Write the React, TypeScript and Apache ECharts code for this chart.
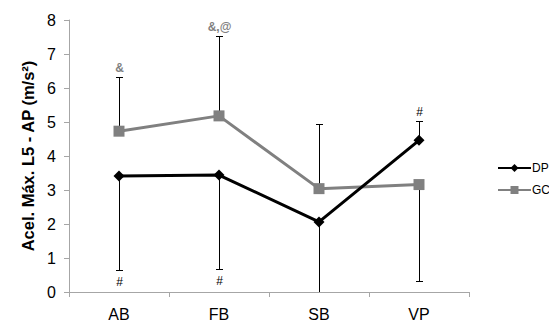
import React, { useEffect, useRef } from "react";
import * as echarts from "echarts";

const categories = ["AB", "FB", "SB", "VP"];
const dpValues = [3.41, 3.44, 2.06, 4.46];
const gcValues = [4.73, 5.18, 3.04, 3.16];
// error bar ends (null = none)
const dpErrEnd: (number | null)[] = [0.65, 0.68, -0.5, 5.04];
const gcErrEnd: (number | null)[] = [6.33, 7.54, 4.93, 0.31];
const dpMarks = ["#", "#", "", "#"];
const gcMarks = ["&", "&,@", "", ""];
const yTicks = [0, 1, 2, 3, 4, 5, 6, 7, 8];

function errSeries(name: string, values: number[], ends: (number | null)[], marks: string[], markColor: string) {
  return {
    type: "custom",
    name: name + "err",
    clip: true,
    silent: true,
    z: 1,
    data: values.map((v, i) => [i, v, ends[i] == null ? v : ends[i], i]),
    renderItem: (params: any, api: any) => {
      const i = api.value(3);
      const p0 = api.coord([api.value(0), api.value(1)]);
      const p1 = api.coord([api.value(0), api.value(2)]);
      const up = api.value(2) > api.value(1);
      const cs = params.coordSys;
      const bottom = cs.y + cs.height;
      const x = Math.round(p0[0]) + 0.5;
      const children: any[] = [];
      const endY = Math.min(Math.round(p1[1]) + 0.5, bottom);
      children.push({
        type: "line",
        shape: { x1: x, y1: p0[1], x2: x, y2: endY },
        style: { stroke: "#000", lineWidth: 1 },
      });
      if (p1[1] <= bottom) {
        children.push({
          type: "line",
          shape: { x1: x - 3.5, y1: endY, x2: x + 3.5, y2: endY },
          style: { stroke: "#000", lineWidth: 1 },
        });
      }
      if (marks[i]) {
        children.push({
          type: "text",
          x: x,
          y: up ? p1[1] - 9 : p1[1] + 12,
          style: {
            text: marks[i],
            fill: markColor,
            font: (markColor === "#000" ? "" : "bold ") + "12px 'Liberation Sans', Arial, sans-serif",
            align: "center",
            verticalAlign: "middle",
          },
        });
      }
      return { type: "group", children };
    },
  };
}

export default function App() {
  const ref = useRef<HTMLDivElement>(null);
  useEffect(() => {
    if (!ref.current) return;
    const chart = echarts.init(ref.current, null, { renderer: "svg" });
    const font = "'Liberation Sans', Arial, sans-serif";
    chart.setOption({
      animation: false,
      backgroundColor: "#fff",
      textStyle: { fontFamily: font },
      grid: { left: 69, right: 80, top: 20, bottom: 37, containLabel: false },
      legend: {
        orient: "vertical",
        left: 492,
        top: 157,
        itemWidth: 33,
        itemHeight: 10,
        itemGap: 10,
        data: ["DP", "GC"],
        textStyle: { fontSize: 12, color: "#000", fontFamily: font, padding: [0, 0, 0, -4] },
      },
      xAxis: {
        type: "category",
        data: categories,
        boundaryGap: true,
        axisLine: { lineStyle: { color: "#a6a6a6", width: 1 } },
        axisTick: { show: true, length: 5, lineStyle: { color: "#a6a6a6" } },
        axisLabel: { fontSize: 16, color: "#000", margin: 14, fontFamily: font },
        splitLine: { show: false },
      },
      yAxis: {
        type: "value",
        min: yTicks[0],
        max: yTicks[yTicks.length - 1],
        interval: 1,
        axisLine: { show: true, lineStyle: { color: "#a6a6a6", width: 1 } },
        axisTick: { show: true, length: 5, lineStyle: { color: "#a6a6a6" } },
        axisLabel: { fontSize: 16, color: "#000", margin: 13, fontFamily: font },
        splitLine: { show: false },
        name: "Acel. Máx. L5 - AP (m/s²)",
        nameLocation: "middle",
        nameGap: 33,
        nameTextStyle: { fontSize: 16.5, fontWeight: "bold", color: "#000", fontFamily: font },
      },
      series: [
        errSeries("DP", dpValues, dpErrEnd, dpMarks, "#000"),
        errSeries("GC", gcValues, gcErrEnd, gcMarks, "#808080"),
        {
          type: "line",
          name: "GC",
          data: gcValues,
          symbol: "rect",
          symbolSize: 11,
          z: 3,
          lineStyle: { color: "#808080", width: 3 },
          itemStyle: { color: "#808080" },
        },
        {
          type: "line",
          name: "DP",
          data: dpValues,
          symbol: "diamond",
          symbolSize: 11,
          z: 4,
          lineStyle: { color: "#000", width: 3 },
          itemStyle: { color: "#000" },
        },
      ],
    });
    return () => chart.dispose();
  }, []);
  return <div ref={ref} style={{ width: 549, height: 329, position: "absolute", left: 0, top: 0 }} />;
}
